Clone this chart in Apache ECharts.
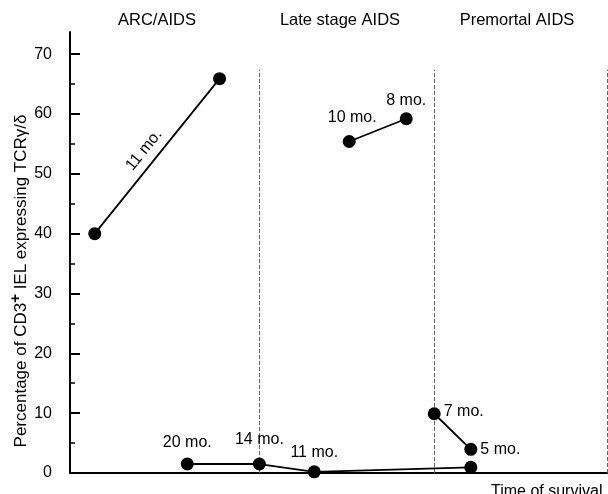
<!DOCTYPE html>
<html><head><meta charset="utf-8">
<script src="https://cdn.jsdelivr.net/npm/echarts@6/dist/echarts.min.js"></script>
<style>html,body{margin:0;padding:0;background:#fff}#c{width:608px;height:494px}</style>
</head><body><div id="c"></div>
<script>
// ---- data ----
const arcX = [4.6, 27.8];
const arcY = [40.0, 65.9];
const arcLabel = '11 mo.';
const lowX = [21.8, 35.2, 45.4, 74.5];
const lowY = [1.5, 1.5, 0.2, 0.95];
const lowLabels = ['20 mo.', '14 mo.', '11 mo.', ''];
const lateX = [51.9, 62.5];
const lateY = [55.4, 59.2];
const lateLabels = ['10 mo.', '8 mo.'];
const preX = [67.7, 74.5];
const preY = [9.9, 3.95];
const preLabels = ['7 mo.', '5 mo.'];
const dividerX = [35.2, 67.7, 99.8];
const dividerTop = 67.4;
const majorTicks = [0, 10, 20, 30, 40, 50, 60, 70];
const minorTicks = [5, 15, 25, 35, 45, 55, 65];
const stageNames = ['ARC/AIDS', 'Late stage AIDS', 'Premortal AIDS'];
const yTitle = ['Percentage of CD3', '+', ' IEL expressing TCRγ/δ'];
const xTitle = 'Time of survival';

// ---- layout / style ----
const FONT = 'Liberation Sans, Arial, Helvetica, sans-serif';
const lowLabelLayout = [
  {position: 'top', distance: 7},
  {position: 'top', distance: 10},
  {position: 'top', distance: 5},
  {show: false}
];
const lateLabelLayout = [
  {position: 'top', distance: 9, offset: [3, 0]},
  {position: 'top', distance: 4}
];
const preLabelLayout = [
  {position: 'right', distance: 3, offset: [0, -2]},
  {position: 'right', distance: 3}
];
const stageCenters = [157, 340, 517];

function pts(xs, ys, labels, layout) {
  return xs.map((x, i) => {
    const item = {value: [x, ys[i]]};
    if (labels) item.label = Object.assign({show: true, formatter: labels[i]}, layout[i]);
    return item;
  });
}

const lineSeries = (name, data) => ({
  name, type: 'line', data,
  symbol: 'circle', symbolSize: 13,
  itemStyle: {color: '#000'},
  lineStyle: {color: '#000', width: 1.8},
  label: {color: '#000', fontSize: 16, fontFamily: FONT},
  animation: false, z: 5
});

const chart = echarts.init(document.getElementById('c'), null, {renderer: 'canvas'});
const yMax = 73.7;
const option = {
  animation: false,
  backgroundColor: '#fff',
  grid: {left: 70, right: 0, top: 32, bottom: 21},
  xAxis: {
    type: 'value', min: 0, max: 100,
    axisLine: {show: true, lineStyle: {color: '#000', width: 2}},
    axisTick: {show: false}, axisLabel: {show: false}, splitLine: {show: false}
  },
  yAxis: [{
    type: 'value', min: 0, max: yMax, position: 'left',
    axisLine: {show: true, lineStyle: {color: '#000', width: 2}},
    axisTick: {show: true, inside: true, length: 10, customValues: majorTicks, lineStyle: {color: '#000', width: 2}},
    axisLabel: {customValues: majorTicks, fontSize: 16, color: '#000', fontFamily: FONT, margin: 18},
    splitLine: {show: false}
  }, {
    type: 'value', min: 0, max: yMax, position: 'left', offset: 0,
    axisLine: {show: false},
    axisTick: {show: true, inside: true, length: 5, customValues: minorTicks, lineStyle: {color: '#000', width: 1.5}},
    axisLabel: {show: false},
    splitLine: {show: false}
  }],
  series: [
    Object.assign(lineSeries('arc', pts(arcX, arcY)), {
      markLine: {
        silent: true, symbol: 'none', label: {show: false},
        lineStyle: {color: '#666', type: [4, 2], width: 1},
        data: dividerX.map(x => [{coord: [x, 0]}, {coord: [x, dividerTop]}])
      }
    }),
    lineSeries('low', pts(lowX, lowY, lowLabels, lowLabelLayout)),
    lineSeries('late', pts(lateX, lateY, lateLabels, lateLabelLayout)),
    lineSeries('pre', pts(preX, preY, preLabels, preLabelLayout))
  ]
};
chart.setOption(option);

// graphics: headings, axis titles, rotated segment label
const p1 = chart.convertToPixel({gridIndex: 0}, [arcX[0], arcY[0]]);
const p2 = chart.convertToPixel({gridIndex: 0}, [arcX[1], arcY[1]]);
const dx = p2[0] - p1[0], dy = p2[1] - p1[1];
const len = Math.hypot(dx, dy);
const ux = dx / len, uy = dy / len;
const px = uy, py = -ux; // perpendicular toward upper-left
const mx = (p1[0] + p2[0]) / 2 - 3.5 * ux + 14 * px;
const my = (p1[1] + p2[1]) / 2 - 3.5 * uy + 14 * py;

const graphics = stageNames.map((s, i) => ({
  type: 'text', x: stageCenters[i], y: 20,
  style: {text: s, fontSize: 16.5, fontFamily: FONT, fill: '#000', align: 'center', verticalAlign: 'middle'}
}));
graphics.push({
  type: 'text', x: mx, y: my, rotation: Math.atan2(-dy, dx),
  style: {text: arcLabel, fontSize: 16, fontFamily: FONT, fill: '#000', align: 'center', verticalAlign: 'middle'}
});
graphics.push({
  type: 'text', x: 19, y: 281, rotation: Math.PI / 2,
  style: {
    text: '{a|' + yTitle[0] + '}{s|' + yTitle[1] + '}{a|' + yTitle[2] + '}',
    align: 'center', verticalAlign: 'middle',
    rich: {
      a: {fontSize: 17, fontFamily: FONT, fill: '#000', lineHeight: 22, verticalAlign: 'bottom'},
      s: {fontSize: 15, fontFamily: FONT, fill: '#000', lineHeight: 22, verticalAlign: 'top', fontWeight: 'bold'}
    }
  }
});
graphics.push({
  type: 'text', x: 491, y: 492,
  style: {text: xTitle, fontSize: 16, fontFamily: FONT, fill: '#000', align: 'left', verticalAlign: 'middle'}
});
chart.setOption({graphic: graphics});
</script></body></html>
